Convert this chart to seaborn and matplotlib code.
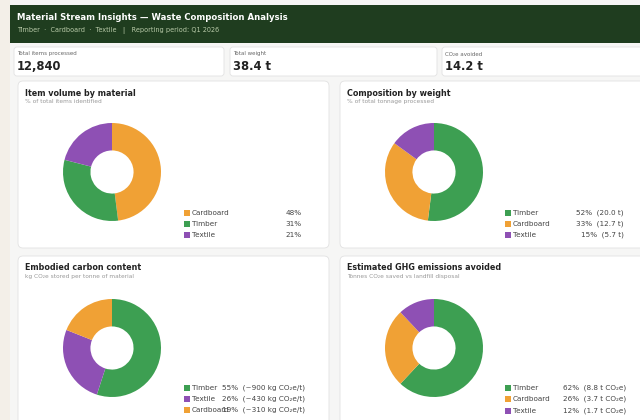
import matplotlib
matplotlib.use('Agg')
import matplotlib.pyplot as plt
from matplotlib.patches import FancyBboxPatch, Rectangle
import seaborn as sns

sns.set_theme(style='white')
plt.rcParams['font.family'] = ['DejaVu Sans']

# colours per material
material_colors = {'Timber': '#3d9f52', 'Cardboard': '#f0a135', 'Textile': '#8e50b4'}

# KPI cards
kpi_labels = ['Total items processed', 'Total weight', 'CO\u2082e avoided']
kpi_values = ['12,840', '38.4 t', '14.2 t']

# panel 1: item volume
volume_materials = ['Cardboard', 'Timber', 'Textile']
volume_pct = [48, 31, 21]
volume_notes = ['48%', '31%', '21%']

# panel 2: weight
weight_materials = ['Timber', 'Cardboard', 'Textile']
weight_pct = [52, 33, 15]
weight_notes = ['52%  (20.0 t)', '33%  (12.7 t)', '15%  (5.7 t)']

# panel 3: embodied carbon
carbon_materials = ['Timber', 'Textile', 'Cardboard']
carbon_pct = [55, 26, 19]
carbon_notes = ['55%  (~900 kg CO\u2082e/t)', '26%  (~430 kg CO\u2082e/t)',
                '19%  (~310 kg CO\u2082e/t)']

# panel 4: GHG avoided
ghg_materials = ['Timber', 'Cardboard', 'Textile']
ghg_pct = [62, 26, 12]
ghg_notes = ['62%  (8.8 t CO\u2082e)', '26%  (3.7 t CO\u2082e)', '12%  (1.7 t CO\u2082e)']

W, H = 640, 420
fig = plt.figure(figsize=(W / 100, H / 100), dpi=100)
fig.patch.set_facecolor('#f6f6f5')


def fx(x):
    return x / W


def fy(y):
    return 1 - y / H


def card(x0, y0, x1, y1, fc='white', ec='#e2e2e2', r=4):
    fig.patches.append(FancyBboxPatch(
        (fx(x0), fy(y1)), fx(x1 - x0), (y1 - y0) / H,
        boxstyle='round,pad=0,rounding_size=%f' % (r / W),
        transform=fig.transFigure, facecolor=fc, edgecolor=ec, linewidth=0.6,
        mutation_aspect=W / H, zorder=-1))


def text(x, y, s, **kw):
    kw.setdefault('va', 'center')
    fig.text(fx(x), fy(y), s, **kw)


# left strip + header
fig.patches.append(Rectangle((0, 0), fx(10), 1, transform=fig.transFigure,
                             facecolor='#f3efe8', edgecolor='none', zorder=-1))
fig.patches.append(Rectangle((fx(10), fy(43)), 1, 38 / H, transform=fig.transFigure,
                             facecolor='#1f3d1f', edgecolor='none', zorder=-1))
text(17, 17, 'Material Stream Insights \u2014 Waste Composition Analysis',
     color='white', fontsize=6.1, fontweight='bold')
text(17, 30, 'Timber  \u00b7  Cardboard  \u00b7  Textile   |   Reporting period: Q1 2026',
     color='#b9cba9', fontsize=4.7)

# KPI cards
kpi_x = [(14, 224), (230, 437), (442, 660)]
for (x0, x1), lab, val in zip(kpi_x, kpi_labels, kpi_values):
    card(x0, 47, x1, 76, r=3)
    text(x0 + 3, 54, lab, color='#666666', fontsize=4.0)
    text(x0 + 3, 66, val, color='#222222', fontsize=8.3, fontweight='bold')

panels = [
    dict(box=(18, 81, 329, 248), title='Item volume by material',
         sub='% of total items identified', mats=volume_materials, pct=volume_pct,
         notes=volume_notes, center=(112, 172), lx=187, vx=302, ha='right',
         rows=[213, 224, 235]),
    dict(box=(340, 81, 660, 248), title='Composition by weight',
         sub='% of total tonnage processed', mats=weight_materials, pct=weight_pct,
         notes=weight_notes, center=(434, 172), lx=508, vx=624, ha='right',
         rows=[213, 224, 235]),
    dict(box=(18, 256, 329, 440), title='Embodied carbon content',
         sub='kg CO\u2082e stored per tonne of material', mats=carbon_materials,
         pct=carbon_pct, notes=carbon_notes, center=(112, 348), lx=187, vx=222,
         ha='left', rows=[388, 399, 410]),
    dict(box=(340, 256, 660, 440), title='Estimated GHG emissions avoided',
         sub='Tonnes CO\u2082e saved vs landfill disposal', mats=ghg_materials,
         pct=ghg_pct, notes=ghg_notes, center=(434, 348), lx=508, vx=563,
         ha='left', rows=[388, 399, 411]),
]

R = 49
for p in panels:
    x0, y0, x1, y1 = p['box']
    card(x0, y0, x1, y1, r=5)
    text(x0 + 7, y0 + 12, p['title'], color='#222222', fontsize=5.8, fontweight='bold')
    text(x0 + 7, y0 + 20.5, p['sub'], color='#999999', fontsize=4.2)

    cx, cy = p['center']
    ax = fig.add_axes([fx(cx - R), fy(cy + R), 2 * R / W, 2 * R / H])
    ax.set_zorder(2)
    cols = [material_colors[m] for m in p['mats']]
    ax.pie(p['pct'], colors=cols, startangle=90, counterclock=False,
           wedgeprops=dict(width=0.56, edgecolor='none'))
    ax.set_xlim(-1, 1)
    ax.set_ylim(-1, 1)
    ax.axis('off')

    for m, note, ry in zip(p['mats'], p['notes'], p['rows']):
        fig.patches.append(Rectangle((fx(p['lx'] - 3), fy(ry + 3)), 6 / W, 6 / H,
                                     transform=fig.transFigure,
                                     facecolor=material_colors[m], edgecolor='none'))
        text(p['lx'] + 5, ry, m, color='#444444', fontsize=5.2)
        text(p['vx'], ry, note, color='#444444', fontsize=5.2, ha=p['ha'])

fig.savefig('out.png', dpi=100, facecolor=fig.get_facecolor())
